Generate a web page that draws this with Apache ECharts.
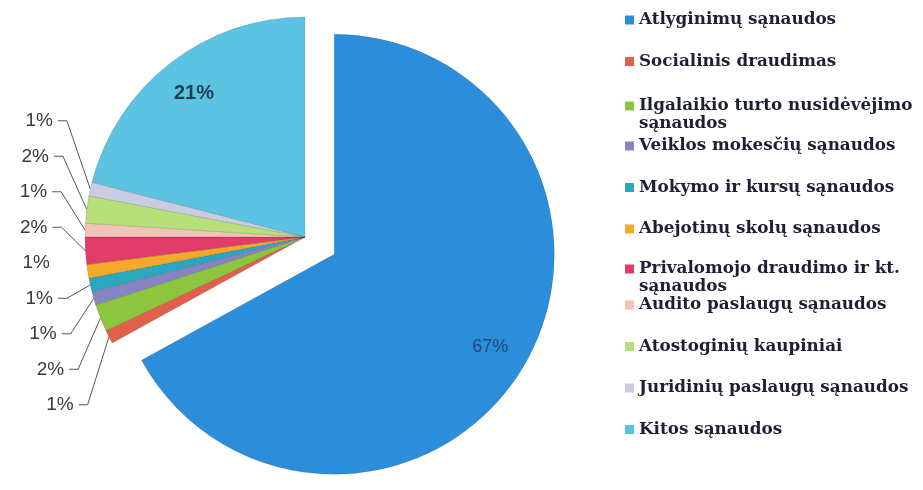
<!DOCTYPE html>
<html><head><meta charset="utf-8">
<script src="https://cdn.jsdelivr.net/npm/echarts@6/dist/echarts.min.js"></script>
<style>html,body{margin:0;padding:0;background:#fff}#c{width:923px;height:490px}</style>
</head><body><div id="c"></div>
<script>
const categories = [
  'Atlyginimų sąnaudos',
  'Socialinis draudimas',
  'Ilgalaikio turto nusidėvėjimo\nsąnaudos',
  'Veiklos mokesčių sąnaudos',
  'Mokymo ir kursų sąnaudos',
  'Abejotinų skolų sąnaudos',
  'Privalomojo draudimo ir kt.\nsąnaudos',
  'Audito paslaugų sąnaudos',
  'Atostoginių kaupiniai',
  'Juridinių paslaugų sąnaudos',
  'Kitos sąnaudos'
];
const values = [67, 1, 2, 1, 1, 1, 2, 1, 2, 1, 21];
const colors = ['#2c8edb', '#e0604c', '#8cc63e', '#8784c4', '#2aa8c0', '#f5a82a', '#e23c68', '#f2c4b8', '#b8e07a', '#c9cde2', '#5cc3e3'];
const insideLabels = [0, 10];
const legendGroups = [[0, 1], [2], [3, 4, 5], [6], [7, 8, 9, 10]];
const legendTops = [6, 92, 132, 255, 291];

const center = [305, 237];
const radius = 220;
const labelShift = -63;

const mainData = categories.map((n, i) => ({
  name: n, value: values[i], selected: i === 0,
  itemStyle: { color: colors[i] },
  label: { show: insideLabels.indexOf(i) < 0 },
  labelLine: { show: insideLabels.indexOf(i) < 0 && i !== 5 }
}));
const ringData = categories.map((n, i) => ({
  name: n, value: values[i], selected: i === 0,
  label: i === 0 ? { show: true, fontSize: 18, color: '#1d4a78', fontWeight: 'normal', offset: [-3, 5] }
       : i === 10 ? { show: true, fontSize: 20, color: '#1e3f52', fontWeight: 'bold' }
       : { show: false }
}));

const legendText = { fontFamily: 'DejaVu Serif', fontWeight: 'bold', fontSize: 16.8, color: '#1c2035', lineHeight: 18 };
const twoLineIcon = 'path://M0,0L9,0L9,9L0,9Z M0,26.99L0.01,26.99L0.01,27L0,27Z';
const legends = legendGroups.map((g, k) => {
  const multi = g.length === 1 && categories[g[0]].indexOf('\n') >= 0;
  return {
    orient: 'vertical', left: 620, top: legendTops[k],
    icon: multi ? twoLineIcon : 'rect', itemWidth: 9, itemHeight: multi ? 27 : 9, itemGap: 23.5,
    itemStyle: { borderWidth: 0 },
    data: g.map(i => categories[i]),
    textStyle: legendText
  };
});

const chart = echarts.init(document.getElementById('c'));
chart.setOption({
  animation: false,
  legend: legends,
  series: [{
    type: 'pie', radius: radius, center: center,
    startAngle: 90, clockwise: true,
    selectedMode: 'single', selectedOffset: 34,
    avoidLabelOverlap: true,
    data: mainData,
    label: {
      position: 'outside', formatter: '{d}%',
      fontFamily: 'Liberation Sans', fontSize: 19, color: '#3a3a3a', lineHeight: 33.5,
      alignTo: 'labelLine'
    },
    labelLine: { length: 24, length2: 9, lineStyle: { color: '#555', width: 1 } },
    labelLayout: function (p) {
      const out = { y: p.labelRect.y + p.labelRect.height / 2 + labelShift };
      const pts = p.labelLinePoints;
      if (pts && pts.length === 3) {
        out.labelLinePoints = [
          [pts[0][0], pts[0][1]],
          [pts[1][0], pts[2][1] + labelShift],
          [pts[2][0], pts[2][1] + labelShift]
        ];
      }
      return out;
    },
    itemStyle: { borderColor: 'rgba(0,0,0,0.25)', borderWidth: 0.5 },
    emphasis: { disabled: true }
  }, {
    type: 'pie', radius: [radius * 0.62, radius], center: center,
    startAngle: 90, clockwise: true, silent: true,
    selectedMode: 'single', selectedOffset: 34,
    data: ringData,
    itemStyle: { color: 'rgba(0,0,0,0)' },
    label: { position: 'inside', formatter: '{d}%', fontFamily: 'Liberation Sans' },
    labelLine: { show: false },
    emphasis: { disabled: true }
  }]
});
</script></body></html>
